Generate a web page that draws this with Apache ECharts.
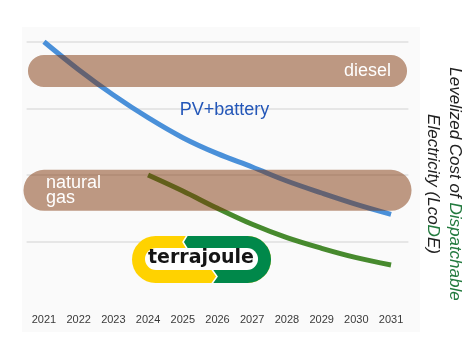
<!DOCTYPE html>
<html><head><meta charset="utf-8">
<script src="https://cdn.jsdelivr.net/npm/echarts@6/dist/echarts.min.js"></script>
<style>html,body{margin:0;padding:0;background:#fff}#c{width:472px;height:355px}</style>
</head><body><div id="c"></div>
<script>
const years = ['2021','2022','2023','2024','2025','2026','2027','2028','2029','2030','2031'];
const pvBattery = [4.0, 3.58, 3.2, 2.86, 2.56, 2.32, 2.12, 1.91, 1.73, 1.56, 1.41];
const terrajoule = [null, null, null, 2.0, 1.76, 1.50, 1.26, 1.06, 0.9, 0.76, 0.65];
const diesel = [3.56, 3.56, 3.56, 3.56, 3.56, 3.56, 3.56, 3.56, 3.56, 3.56, 3.56];
const naturalGas = [1.77, 1.77, 1.77, 1.77, 1.77, 1.77, 1.77, 1.77, 1.77, 1.77, 1.77];
const yMin = 0, yMax = 4, yStep = 1;

const FONT = '"Liberation Sans", Arial, sans-serif';
const BAND = 'rgba(127,50,7,0.49)';
const chart = echarts.init(document.getElementById('c'), null, {renderer: 'canvas'});

const titleBase = {fontFamily: FONT, fontSize: 17, fontStyle: 'italic', lineHeight: 22};
chart.setOption({
  animation: false,
  backgroundColor: '#ffffff',
  grid: {left: 26.6, right: 63.6, top: 41.7, bottom: 46.7, containLabel: false, outerBoundsMode: 'none'},
  xAxis: {
    type: 'category', data: years, boundaryGap: true,
    axisLine: {show: false}, axisTick: {show: false},
    axisLabel: {color: '#3a3a3a', fontSize: 11, fontFamily: FONT, margin: 6}
  },
  yAxis: {
    type: 'value', position: 'right', min: yMin, max: yMax, interval: yStep,
    axisLabel: {show: false}, axisLine: {show: false}, axisTick: {show: false},
    splitLine: {lineStyle: {color: ['rgba(0,0,0,0)', '#e6e6e6', '#e6e6e6', '#e6e6e6', '#e6e6e6'], width: 2}},
    name: '{a|Levelized Cost of }{g|Dispatchable}\n{a|Electricity (Lco}{g|D}{a|E)}',
    nameLocation: 'middle', nameRotate: -90, nameGap: 13,
    nameTextStyle: Object.assign({}, titleBase, {color: '#222', align: 'center', padding: [0, 0, 0, 18],
      rich: {a: Object.assign({color: '#222'}, titleBase), g: Object.assign({color: '#227a3e'}, titleBase)}})
  },
  series: [
    {type: 'line', data: pvBattery, smooth: 0.35, symbol: 'none', lineStyle: {color: '#4a90d9', width: 5}, z: 2},
    {type: 'line', data: terrajoule, smooth: 0.35, symbol: 'none', lineStyle: {color: '#478a2e', width: 5}, z: 2},
    {type: 'line', data: diesel, symbol: 'none', clip: false, lineStyle: {color: BAND, width: 32, cap: 'round'}, z: 3},
    {type: 'line', data: naturalGas, symbol: 'none', clip: false, lineStyle: {color: BAND, width: 41, cap: 'round'}, z: 3}
  ]
});

const pD = chart.convertToPixel({gridIndex: 0}, [years[10], diesel[10]]);
const pG = chart.convertToPixel({gridIndex: 0}, [years[0], naturalGas[0]]);
const pPV = chart.convertToPixel({gridIndex: 0}, [years[5], 2.97]);

chart.setOption({
  graphic: [
    {type: 'rect', z: -10, silent: true, shape: {x: 22, y: 27, width: 398, height: 305}, style: {fill: '#fafafa'}},
    {type: 'text', z: 10, x: pD[0], y: pD[1], style: {text: 'diesel', fill: '#fff', font: '18px ' + FONT, align: 'right', verticalAlign: 'middle', textAlign: 'right', textVerticalAlign: 'middle'}},
    {type: 'text', z: 10, x: pG[0] + 2, y: pG[1], style: {text: 'natural\ngas', fill: '#fff', font: '18px ' + FONT, lineHeight: 15, align: 'left', verticalAlign: 'middle', textAlign: 'left', textVerticalAlign: 'middle'}},
    {type: 'text', z: 10, x: pPV[0] + 7, y: pPV[1], style: {text: 'PV+battery', fill: '#2356b8', font: '18px ' + FONT, align: 'center', verticalAlign: 'middle', textAlign: 'center', textVerticalAlign: 'middle'}},
    {type: 'group', x: 132, y: 236, z: 20, children: [
      {type: 'rect', shape: {x: 0, y: 0, width: 139, height: 47, r: 23.5}, style: {fill: '#ffd200'}},
      {type: 'rect', shape: {x: 58, y: 0, width: 81, height: 47, r: [0, 23.5, 23.5, 0]}, style: {fill: '#00884a'}},
      {type: 'polygon', shape: {points: [[58,0],[58,12],[55,12],[51,6],[55,0]]}, style: {fill: '#00884a'}},
      {type: 'polyline', shape: {points: [[55,-0.5],[51,6],[55,12.5]]}, style: {stroke: '#fff', lineWidth: 1.5, fill: null}},
      {type: 'polygon', shape: {points: [[57,34],[80,34],[85,40.5],[80,47],[57,47]]}, style: {fill: '#ffd200'}},
      {type: 'polyline', shape: {points: [[80,33.5],[85,40.5],[80,47.5]]}, style: {stroke: '#fff', lineWidth: 1.5, fill: null}},
      {type: 'rect', shape: {x: 13, y: 12, width: 113, height: 22, r: 11}, style: {fill: '#fff'}},
      {type: 'text', x: 69, y: 22.5, style: {text: 'terrajoule', fill: '#151515', font: 'bold 19px "DejaVu Sans", sans-serif', align: 'center', verticalAlign: 'middle', textAlign: 'center', textVerticalAlign: 'middle'}}
    ]}
  ]
});
</script>
</body></html>
